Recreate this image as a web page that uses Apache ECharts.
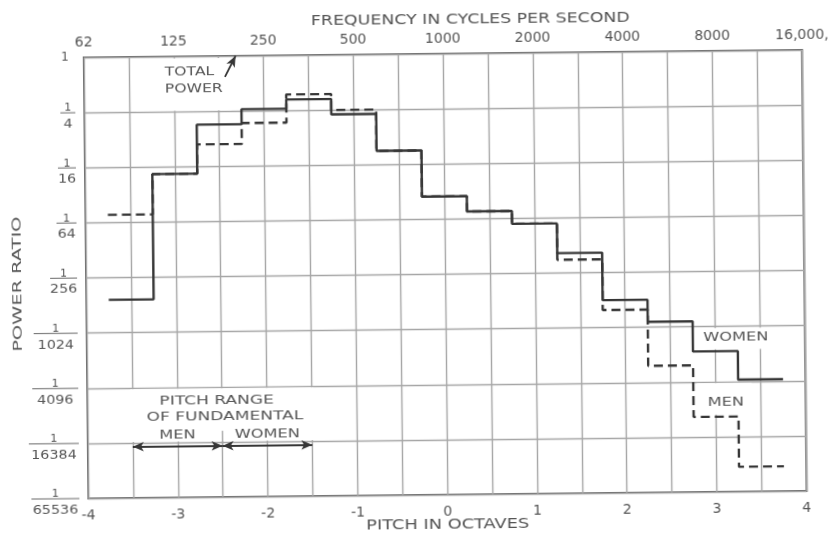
<!DOCTYPE html>
<html>
<head>
<meta charset="utf-8">
<title>Power ratio vs pitch in octaves</title>
<script src="https://cdn.jsdelivr.net/npm/echarts@6/dist/echarts.min.js"></script>
<style>
  html, body { margin: 0; padding: 0; background: #fff; }
  #chart { width: 834px; height: 535px; transform: rotate(-0.6deg); transform-origin: 50% 50%; }
</style>
</head>
<body>
<div id="chart"></div>
<script>
// Half-octave band edges, pitch in octaves relative to 1000 c/s
const bandEdges = [-3.75, -3.25, -2.75, -2.25, -1.75, -1.25, -0.75, -0.25, 0.25, 0.75, 1.25, 1.75, 2.25, 2.75, 3.25, 3.75];
// Power ratio in each band (relative to total power)
const womenPower = [0.00224, 0.0522, 0.179, 0.261, 0.330, 0.224, 0.0884, 0.0276, 0.0188, 0.0136, 0.00644, 0.00195, 0.00112, 0.000524, 0.000255];
const menPower   = [0.0190, 0.0522, 0.109, 0.184, 0.374, 0.250, 0.0884, 0.0276, 0.0188, 0.0136, 0.00545, 0.00152, 0.000370, 0.000101, 0.0000285];
// Axis tick labels
const octaveTicks = [-4, -3, -2, -1, 0, 1, 2, 3, 4];
const freqLabels = ['62', '125', '250', '500', '1000', '2000', '4000', '8000', '16,000,'];
const powerDenoms = [1, 4, 16, 64, 256, 1024, 4096, 16384, 65536];
// Pitch range of the fundamental (octaves)
const menRange = [-3.5, -2.5];
const womenRange = [-2.5, -1.5];

const INK = '#363636';
const TEXT = '#555';
const GRID = '#a6a6a6';
const FONT = 'DejaVu Sans';
// width of the fraction bar in each power-ratio tick label
const fractionBarWidth = { 4: 15, 16: 18, 64: 20, 256: 27, 1024: 44, 4096: 46, 16384: 50, 65536: 48 };

// power ratio at a given number of factor-of-4 steps below 1
const quarterSteps = k => Math.pow(4, -k);

function stepData(values) {
  const pts = values.map((v, i) => [bandEdges[i], v]);
  pts.push([bandEdges[bandEdges.length - 1], values[values.length - 1]]);
  return pts;
}

const arrowLevel = quarterSteps(7.07);

const chart = echarts.init(document.getElementById('chart'), null, { renderer: 'canvas' });

const option = {
  animation: false,
  backgroundColor: '#fff',
  grid: {
    left: 86, right: 25, top: 54, bottom: 40,
    show: true, borderColor: '#666', borderWidth: 2, backgroundColor: 'transparent'
  },
  xAxis: [
    {
      type: 'value', position: 'bottom', min: -4, max: 4, interval: 0.5,
      axisLine: { show: false }, axisTick: { show: false },
      splitLine: { show: true, lineStyle: { color: GRID, width: 1.4 } },
      axisLabel: {
        margin: 10, color: TEXT, fontFamily: FONT, fontSize: 14,
        showMinLabel: true, showMaxLabel: true,
        formatter: v => octaveTicks.includes(v) ? String(v) : ''
      }
    },
    {
      type: 'value', position: 'top', min: -4, max: 4, interval: 1,
      axisLine: { show: false }, axisTick: { show: false }, splitLine: { show: false },
      axisLabel: {
        margin: 8, color: TEXT, fontFamily: FONT, fontSize: 14,
        showMinLabel: true, showMaxLabel: true,
        formatter: v => {
          const i = octaveTicks.indexOf(v);
          return i >= 0 ? freqLabels[i] : '';
        }
      }
    }
  ],
  yAxis: {
    type: 'log', logBase: 4, min: 1 / powerDenoms[powerDenoms.length - 1], max: 1,
    axisLine: { show: false }, axisTick: { show: false },
    splitLine: { show: true, lineStyle: { color: GRID, width: 1.4 } },
    // stacked fraction labels are drawn below as graphics at the axis ticks
    axisLabel: { show: false }
  },
  series: [
    {
      name: 'WOMEN', type: 'line', step: 'end', data: stepData(womenPower),
      symbol: 'none', z: 3,
      lineStyle: { color: INK, width: 2.4 }
    },
    {
      name: 'MEN', type: 'line', step: 'end', data: stepData(menPower),
      symbol: 'none', z: 3,
      lineStyle: { color: INK, width: 2.4, type: [9, 5] }
    },
    {
      name: 'annotations', type: 'line', data: [], silent: true, z: 3,
      markLine: {
        silent: true, animation: false,
        symbol: ['arrow', 'arrow'], symbolSize: [7, 11],
        label: { show: false },
        emphasis: { disabled: true },
        lineStyle: { color: INK, width: 1.8, type: 'solid' },
        data: [
          [{ coord: [menRange[0], arrowLevel] }, { coord: [menRange[1], arrowLevel] }],
          [{ coord: [womenRange[0], arrowLevel] }, { coord: [womenRange[1], arrowLevel] }],
          [{ coord: [-2.43, quarterSteps(0.38)], symbol: 'none' }, { coord: [-2.31, 1], symbol: 'arrow' }]
        ]
      }
    }
  ]
};

chart.setOption(option);

// Helpers working in data coordinates of the grid
const px = (x, y) => chart.convertToPixel({ seriesIndex: 0 }, [x, y]);

function whiteBox(x0, y0, x1, y1, inset) {
  const a = px(x0, y0), b = px(x1, y1);
  const ins = inset || [0, 0, 0, 0]; // top, right, bottom, left
  const left = Math.min(a[0], b[0]) + ins[3];
  const right = Math.max(a[0], b[0]) - ins[1];
  const top = Math.min(a[1], b[1]) + ins[0];
  const bottom = Math.max(a[1], b[1]) - ins[2];
  return {
    type: 'rect', z: 1, silent: true,
    shape: { x: left, y: top, width: right - left, height: bottom - top },
    style: { fill: '#fff' }
  };
}

function lettering(text, x, y, opt) {
  const p = px(x, y);
  const o = opt || {};
  return {
    type: 'text', z: 4, silent: true,
    x: p[0], y: p[1], scaleX: o.scaleX || 1.35,
    style: {
      text: text, fill: TEXT, fontFamily: FONT, fontSize: o.size || 12,
      align: o.align || 'center', verticalAlign: 'middle', lineHeight: o.lineHeight || 16
    }
  };
}

function plainText(text, x, y, size, scaleX) {
  return {
    type: 'text', z: 4, silent: true, x: x, y: y, scaleX: scaleX || 1,
    style: { text: text, fill: TEXT, fontFamily: FONT, fontSize: size, align: 'center', verticalAlign: 'middle' }
  };
}

// Power-ratio tick labels written as stacked fractions 1 / n
const tickLabels = [];
powerDenoms.forEach(d => {
  const p = px(-4, 1 / d);
  const right = p[0] - 9;
  const y = p[1];
  if (d === 1) {
    tickLabels.push(plainText('1', right - 10, y, 12));
    return;
  }
  const w = fractionBarWidth[d];
  const cx = right - w / 2;
  tickLabels.push({
    type: 'line', z: 4, silent: true,
    shape: { x1: right - w, y1: y, x2: right, y2: y },
    style: { stroke: '#6a6a6a', lineWidth: 1 }
  });
  tickLabels.push(plainText('1', cx, y - 4.5, 11));
  tickLabels.push(plainText(String(d), cx, y + 11.5, 13, 1.1));
});

const arrowPx = px(0, arrowLevel)[1];
const dividerTop = arrowPx - 15;
const dividerX = px(menRange[1], 1)[0];

const graphic = tickLabels.concat([
  // TOTAL POWER label area
  whiteBox(-3.42, 1, -2.36, quarterSteps(1), [2, 0, 1, 0]),
  lettering('TOTAL\nPOWER', -3.1, quarterSteps(0.44), { align: 'left', lineHeight: 17, scaleX: 1.3 }),
  // pitch range of fundamental
  whiteBox(menRange[0], quarterSteps(6), womenRange[1], quarterSteps(7), [1.5, -1.5, 1, -1.5]),
  {
    type: 'line', z: 2, silent: true,
    shape: { x1: dividerX, y1: dividerTop, x2: dividerX, y2: arrowPx },
    style: { stroke: GRID, lineWidth: 1.4 }
  },
  lettering('PITCH RANGE', -2.56, quarterSteps(6.26), { scaleX: 1.42 }),
  lettering('OF FUNDAMENTAL', -2.47, quarterSteps(6.55), { scaleX: 1.42 }),
  lettering('MEN', -3.0, quarterSteps(6.87)),
  lettering('WOMEN', -2.0, quarterSteps(6.87)),
  // series labels
  whiteBox(2.79, quarterSteps(5), 3.85, womenPower[13], [1.5, 0, 2, 0]),
  lettering('WOMEN', 3.23, quarterSteps(5.2)),
  whiteBox(2.79, quarterSteps(6), 3.4, menPower[13], [1.5, 0, 2, 0]),
  lettering('MEN', 3.11, quarterSteps(6.39)),
  // axis titles
  plainText('FREQUENCY IN CYCLES PER SECOND', 473, 20, 14, 1.24),
  plainText('PITCH IN OCTAVES', 445, 525, 14, 1.27),
  {
    type: 'text', z: 4, silent: true, x: 18, y: 280, rotation: Math.PI / 2, scaleX: 1.55,
    style: { text: 'POWER RATIO', fill: TEXT, fontFamily: FONT, fontSize: 12.5, align: 'center', verticalAlign: 'middle' }
  }
]);

chart.setOption({ graphic: graphic });
</script>
</body>
</html>
